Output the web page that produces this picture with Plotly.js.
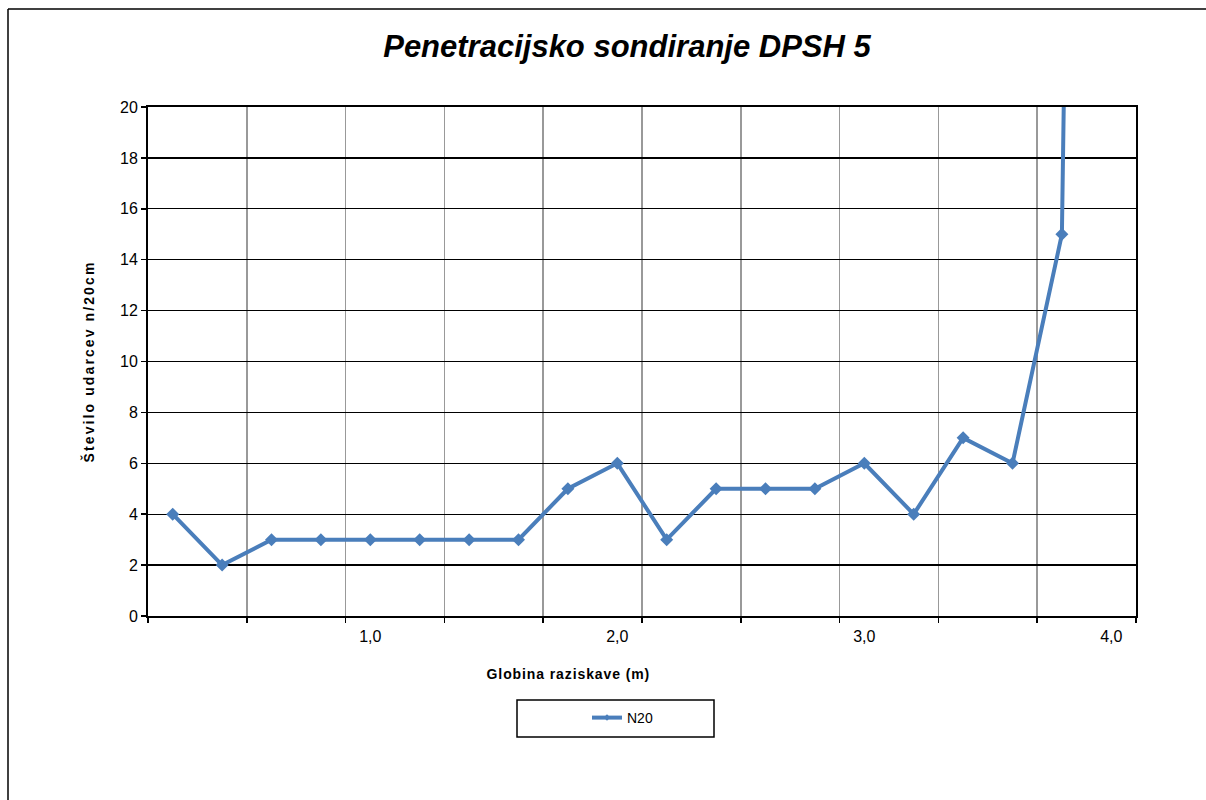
<!DOCTYPE html>
<html>
<head>
<meta charset="utf-8">
<script src="https://cdn.plot.ly/plotly-3.0.1.min.js"></script>
<style>
html,body{margin:0;padding:0;background:#fff}
#chart{width:1206px;height:800px}
#chart text.ytitle{letter-spacing:2.1px}
#chart g.annotation text{letter-spacing:0.9px}
</style>
</head>
<body>
<div id="chart"></div>
<script>
const depth = [0.2,0.4,0.6,0.8,1.0,1.2,1.4,1.6,1.8,2.0,2.2,2.4,2.6,2.8,3.0,3.2,3.4,3.6,3.8,4.0];
const n20 = [4,2,3,3,3,3,3,3,5,6,3,5,5,5,6,4,7,6,15,150];
const xTickVals = [1,2,3,4];
const xTickText = ['1,0','2,0','3,0','4,0'];
const seriesName = 'N20';

const L = 148, R = 1136, T = 107, B = 616, W = 1206, H = 800;
const pw = R - L, ph = B - T;
const px = v => (v - L) / pw;
const py = v => (B - v) / ph;

const font = 'Liberation Sans, Arial, sans-serif';
const blue = '#4a7ebb';

const trace = {
  x: depth, y: n20, name: seriesName, type: 'scatter', mode: 'lines+markers',
  line: {color: blue, width: 4},
  marker: {symbol: 'diamond', size: 10, color: blue},
  cliponaxis: true, showlegend: false
};
const legendTrace = {
  x: [null], y: [null], name: seriesName, type: 'scatter', mode: 'lines+markers',
  line: {color: blue, width: 4},
  marker: {symbol: 'diamond', size: 5, color: blue},
  showlegend: true
};

const layout = {
  width: W, height: H,
  margin: {l: L, r: W - R, t: T, b: H - B},
  paper_bgcolor: '#fff', plot_bgcolor: '#fff',
  font: {family: font, size: 14, color: '#000'},
  showlegend: true,
  title: {text: '<b><i>Penetracijsko sondiranje DPSH 5</i></b>', font: {family: font, size: 31, color: '#000'},
          x: 627 / W, xanchor: 'center', y: 1 - 46 / H, yanchor: 'middle'},
  xaxis: {range: [0.1, 4.1], tick0: 0.1, dtick: 0.4, showticklabels: false,
          ticks: 'outside', ticklen: 5, tickcolor: '#000', tickwidth: 1.5,
          showgrid: true, gridcolor: '#999', gridwidth: 1.5,
          showline: true, linecolor: '#000', linewidth: 2, mirror: true, zeroline: false, fixedrange: true},
  xaxis2: {overlaying: 'x', anchor: 'y', side: 'bottom', range: [0.1, 4.1],
           tickmode: 'array', tickvals: xTickVals, ticktext: xTickText, ticks: '',
           showgrid: false, showline: false, zeroline: false, ticklabelstandoff: 9,
           tickfont: {family: font, size: 16, color: '#000'}},
  yaxis: {range: [0, 20], dtick: 2, tick0: 0, ticks: 'outside', ticklen: 5, tickcolor: '#000', tickwidth: 1.5,
          showgrid: true, gridcolor: '#000', gridwidth: 1.2,
          showline: true, linecolor: '#000', linewidth: 2, mirror: true, zeroline: false,
          tickfont: {family: font, size: 16, color: '#000'},
          title: {text: '<b>Število udarcev n/20cm</b>', font: {family: font, size: 14, color: '#000'}, standoff: 22}},
  legend: {x: px(587), y: py(718), xanchor: 'left', yanchor: 'middle', bgcolor: 'rgba(0,0,0,0)',
           borderwidth: 0, font: {family: font, size: 14, color: '#000'}, itemwidth: 30},
  annotations: [
    {text: '<b>Globina raziskave (m)</b>', xref: 'paper', yref: 'paper', x: px(568), y: py(674),
     xanchor: 'center', yanchor: 'middle', showarrow: false, font: {family: font, size: 14, color: '#000'}}
  ],
  shapes: [
    {type: 'rect', xref: 'paper', yref: 'paper', x0: px(517), x1: px(714), y0: py(700), y1: py(737),
     line: {color: '#000', width: 1.5}, fillcolor: 'rgba(0,0,0,0)'},
    {type: 'line', xref: 'paper', yref: 'paper', x0: px(8), x1: px(1210), y0: py(9), y1: py(9), line: {color: '#000', width: 1.5}},
    {type: 'line', xref: 'paper', yref: 'paper', x0: px(8), x1: px(8), y0: py(9), y1: py(805), line: {color: '#000', width: 1.5}}
  ]
};

const dummy = {x: [1], y: [0], xaxis: 'x2', yaxis: 'y', mode: 'markers', marker: {opacity: 0}, showlegend: false, hoverinfo: 'skip'};

Plotly.newPlot('chart', [trace, legendTrace, dummy], layout, {displayModeBar: false, staticPlot: true});
</script>
</body>
</html>
